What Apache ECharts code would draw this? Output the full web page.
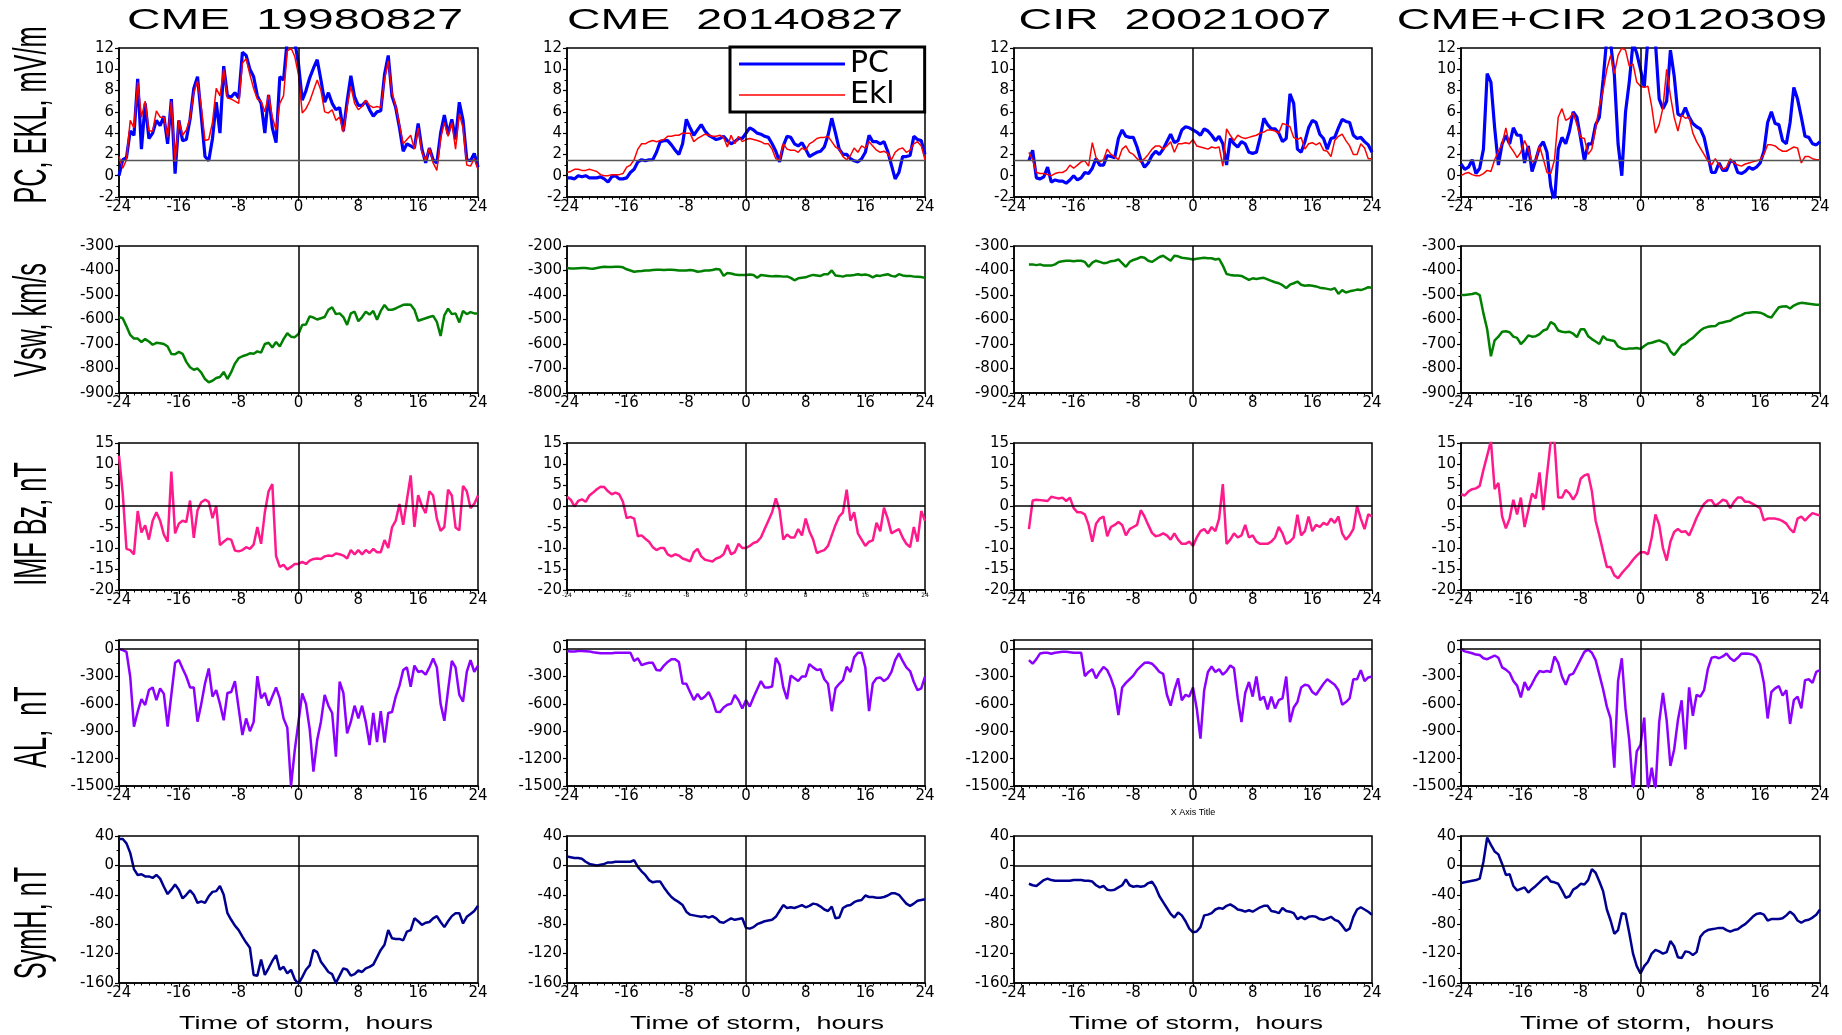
<!DOCTYPE html>
<html><head><meta charset="utf-8">
<script src="https://cdn.jsdelivr.net/npm/echarts@6/dist/echarts.min.js"></script>
<style>html,body{margin:0;padding:0;background:#fff;}#c{width:1842px;height:1035px;}</style>
</head><body><div id="c"></div>
<script>
// ---------- data ----------
const HOURS = [
-24,-23.5,-23,-22.5,-22,-21.5,-21,-20.5,
-20,-19.5,-19,-18.5,-18,-17.5,-17,-16.5,
-16,-15.5,-15,-14.5,-14,-13.5,-13,-12.5,
-12,-11.5,-11,-10.5,-10,-9.5,-9,-8.5,
-8,-7.5,-7,-6.5,-6,-5.5,-5,-4.5,
-4,-3.5,-3,-2.5,-2,-1.5,-1,-0.5,
0,0.5,1,1.5,2,2.5,3,3.5,
4,4.5,5,5.5,6,6.5,7,7.5,
8,8.5,9,9.5,10,10.5,11,11.5,
12,12.5,13,13.5,14,14.5,15,15.5,
16,16.5,17,17.5,18,18.5,19,19.5,
20,20.5,21,21.5,22,22.5,23,23.5,
24];
const X_TICKS = [-24,-16,-8,0,8,16,24];
const TITLES = ['CME  19980827','CME  20140827','CIR  20021007','CME+CIR 20120309'];
const ROW_LABELS = ['PC, EKL, mV/m','Vsw, km/s','IMF Bz, nT','AL,  nT','SymH, nT'];
const X_TITLE = 'Time of storm,  hours';
const LEGEND_NAMES = ['PC','Ekl'];

const Y_MIN = [[-2,-2,-2,-2],[-900,-800,-900,-900],[-20,-20,-20,-20],[-1500,-1500,-1500,-1500],[-160,-160,-160,-160]];
const Y_MAX = [[12,12,12,12],[-300,-200,-300,-300],[15,15,15,15],[100,100,100,100],[40,40,40,40]];
const Y_STEP = [2,100,5,300,40];

const pc1 = [
0,1.5,1.7,4.2,3.8,9.1,2.5,6.8,
3.5,4.0,5.2,4.7,5.6,3.0,7.2,0.2,
5.2,3.3,3.4,5.3,8.2,9.3,5.6,1.8,
1.4,3.5,6.9,4.0,10.3,7.5,7.4,7.8,
7.3,11.6,11.3,10.0,9.3,7.5,6.8,4.0,
7.6,4.5,3.1,9.3,9.0,12.8,13,12.6,
10.5,7.1,8.0,9.2,10.1,10.9,9.0,6.9,
7.8,6.8,6.2,6.4,4.2,7.0,9.4,7.4,
6.6,6.6,7.0,6.2,5.6,6.0,6.1,9.5,
11.3,7.5,6.4,4.5,2.3,3.0,2.8,2.6,
4.9,2.5,1.2,2.6,1.5,1.2,4.0,5.7,
3.9,5.3,3.4,6.9,5.2,1.5,1.4,2.1,
0.8];
const ekl1 = [
1.8,0.7,1.5,5.2,4.5,8.8,5.5,7.0,
4.2,4.2,6.1,5.5,5.5,3.6,7.0,1.3,
5.2,3.8,4.3,5.4,7.8,8.9,6.5,3.3,
3.4,5.0,8.2,7.5,10.0,7.3,7.2,7.0,
6.8,10.6,11.0,9.5,8.2,7.2,7.0,6.0,
7.6,5.5,4.3,6.8,7.5,11.7,12.0,11.2,
9.5,5.9,6.3,7.0,8.0,9.0,8.0,6.0,
5.9,6.2,5.2,5.5,4.1,6.5,8.4,6.8,
6.2,6.5,7.1,6.6,6.4,6.5,6.4,9.0,
10.8,7.8,6.5,4.8,3.0,3.4,3.8,2.5,
4.5,2.2,1.4,2.6,1.2,0.5,3.5,5.0,
3.7,5.0,2.5,5.8,4.5,1.0,0.9,1.6,
0.6];
const vsw1 = [
-590,-595,-628,-663,-678,-678,-692,-680,
-690,-703,-695,-697,-700,-710,-741,-742,
-732,-740,-773,-795,-805,-800,-817,-843,
-856,-850,-839,-835,-814,-843,-815,-780,
-758,-750,-745,-738,-740,-730,-735,-700,
-695,-714,-692,-710,-680,-656,-670,-672,
-659,-622,-620,-587,-592,-600,-595,-590,
-560,-550,-578,-575,-590,-622,-575,-568,
-607,-590,-568,-580,-565,-601,-565,-541,
-560,-560,-555,-547,-540,-539,-540,-560,
-605,-600,-595,-590,-585,-610,-667,-583,
-556,-578,-575,-612,-565,-578,-570,-575,
-575];
const bz1 = [
12,3,-10.2,-10.5,-11.5,-1.2,-6.3,-4.6,
-8,-3.5,-1.5,-3.5,-6.8,-8.5,8.2,-6.5,
-4.2,-3.5,-3.8,1.3,-7.6,-1,0.9,1.5,
1.0,-2.9,0,-9.3,-8.5,-7.8,-8.0,-10.6,
-10.8,-10.5,-9.8,-10.2,-9.2,-5.0,-9.0,-1.5,
3.5,5.2,-11.9,-14.5,-14,-15.1,-14.5,-13.8,
-13.8,-13.3,-13.8,-13.0,-12.6,-12.5,-12.6,-12.0,
-11.8,-11.9,-11.3,-11.5,-11.8,-12.5,-10.5,-11.5,
-10.5,-11.5,-10.5,-11.2,-10.2,-11.0,-11.0,-8.1,
-10,-5.1,-3.5,0.5,-4.5,1.5,7.3,-5.0,
2.6,0,-1.7,3.5,2.5,-3,-5.9,-5.0,
3.9,2.5,-5.1,-5.8,4.8,3.5,-0.5,0.5,
2.5];
const al1 = [
0,-10,-30,-303,-850,-686,-547,-613,
-449,-420,-560,-430,-490,-850,-500,-150,
-120,-212,-300,-420,-420,-795,-600,-376,
-212,-520,-450,-600,-780,-480,-470,-350,
-650,-941,-760,-900,-800,-296,-540,-480,
-620,-520,-420,-540,-759,-860,-1500,-1106,
-795,-485,-600,-880,-1343,-996,-795,-503,
-620,-700,-1178,-357,-480,-923,-795,-620,
-760,-620,-800,-1051,-700,-1020,-680,-1025,
-700,-690,-520,-400,-230,-200,-412,-180,
-250,-240,-280,-200,-102,-200,-600,-785,
-450,-130,-200,-500,-576,-250,-120,-248,
-180];
const symh1 = [
36,36,30,17,-5,-13,-12,-15,
-15,-17,-13,-18,-29,-39,-33,-26,
-33,-45,-40,-34,-40,-51,-49,-51,
-42,-36,-35,-28,-40,-65,-74,-82,
-88,-97,-105,-112,-149,-150,-128,-149,
-140,-130,-122,-142,-138,-147,-142,-155,
-161,-152,-142,-136,-115,-118,-131,-138,
-145,-148,-160,-150,-140,-142,-150,-148,
-143,-145,-140,-138,-135,-125,-115,-108,
-88,-99,-100,-100,-102,-90,-88,-72,
-76,-81,-78,-77,-72,-69,-77,-84,
-76,-69,-65,-65,-79,-70,-66,-62,
-55];

const pc2 = [
-0.2,-0.2,-0.3,0.0,-0.1,0.0,-0.2,-0.2,
-0.2,-0.1,-0.3,-0.6,-0.1,0.0,-0.3,-0.3,
-0.2,0.3,0.6,1.3,1.5,1.4,1.5,1.5,
2.2,3.2,3.3,3.3,2.9,2.4,2.0,3.0,
5.3,4.5,3.8,4.3,4.8,4.2,3.8,3.6,
3.4,3.5,3.7,3.3,3.0,3.2,3.5,3.5,
4.0,4.5,4.3,4.0,3.9,3.7,3.6,3.0,
2.3,1.3,2.8,3.7,3.6,3.0,2.8,3.1,
2.5,1.8,2.0,2.2,2.3,2.7,3.8,5.4,
4.0,2.5,2.0,2.0,1.6,1.4,1.3,1.6,
2.2,3.8,3.2,3.2,3.0,3.2,2.3,1.0,
-0.3,0.3,1.8,1.8,1.9,3.7,3.4,3.3,
2.0];
const ekl2 = [
0.3,0.4,0.6,0.6,0.5,0.5,0.6,0.5,
0.4,0.1,0.0,0.0,0.1,0.1,0.1,0.2,
0.8,1.0,1.5,2.5,3.0,3.0,3.2,3.3,
3.2,3.3,3.4,3.7,3.7,3.8,3.8,4.0,
4.0,4.0,3.2,3.5,3.7,3.9,3.8,3.7,
3.7,3.8,3.6,2.7,3.8,3.0,3.7,3.2,
3.4,3.5,3.4,3.3,3.2,3.0,3.0,2.5,
1.6,1.5,3.0,2.5,2.4,2.4,2.2,2.6,
2.4,3.0,3.2,3.5,3.6,3.6,3.7,3.2,
2.7,2.5,1.8,1.5,1.9,2.6,2.2,2.8,
2.6,3.2,2.8,2.4,2.2,2.3,2.1,1.5,
2.2,2.5,2.6,2.2,2.4,3.0,3.2,2.8,
1.5];
const vsw2 = [
-290,-292,-292,-291,-290,-290,-292,-293,
-290,-287,-285,-286,-286,-285,-285,-287,
-295,-300,-305,-303,-302,-300,-300,-298,
-297,-297,-298,-297,-297,-298,-300,-300,
-300,-298,-300,-305,-303,-300,-300,-298,
-294,-296,-322,-310,-312,-316,-318,-318,
-318,-316,-318,-330,-318,-320,-322,-324,
-322,-323,-325,-324,-330,-340,-332,-330,
-328,-322,-318,-320,-322,-315,-315,-300,
-320,-322,-325,-320,-320,-318,-315,-318,
-316,-320,-328,-320,-322,-318,-315,-322,
-325,-315,-320,-322,-322,-325,-326,-327,
-330];
const bz2 = [
2.2,1.5,-0.1,1.2,1.6,1.0,2.5,3.2,
4.0,4.6,4.5,3.5,2.8,3.2,2.8,1.0,
-2.9,-2.6,-3.0,-7.2,-7.0,-7.8,-8.5,-9.8,
-10.5,-10.0,-10.0,-11.5,-12.0,-11.5,-11.8,-12.5,
-12.8,-13.2,-11.0,-10.2,-12.0,-12.8,-13.0,-13.2,
-12.5,-12.2,-11.5,-9.3,-11.5,-11.0,-9.0,-10.0,
-10.0,-9.5,-8.8,-8.5,-7.5,-5.5,-3.5,-1.5,
1.8,-1.0,-8.0,-6.8,-7.5,-7.5,-5.5,-7.0,
-3.0,-6.0,-8.0,-11.2,-10.8,-10.5,-9.5,-7.0,
-4.5,-2.5,-1.5,3.9,-3.5,-1.5,-6.5,-8.0,
-9.5,-8.5,-8.2,-4.0,-6.0,-0.4,-3.0,-6.5,
-6.0,-5.5,-7.5,-9.0,-9.8,-5.0,-8.5,-1.2,
-3.5];
const al2 = [
-20,-25,-25,-20,-20,-22,-25,-35,
-40,-45,-45,-45,-45,-40,-40,-40,
-40,-40,-130,-100,-175,-160,-150,-150,
-230,-235,-180,-140,-110,-110,-140,-376,
-380,-470,-558,-490,-550,-520,-470,-560,
-686,-690,-640,-610,-600,-503,-560,-650,
-560,-630,-530,-440,-350,-420,-420,-410,
-95,-170,-420,-547,-290,-320,-350,-300,
-300,-164,-200,-230,-220,-330,-380,-680,
-430,-380,-340,-193,-250,-90,-40,-40,
-200,-680,-376,-320,-310,-350,-320,-250,
-120,-47,-130,-200,-240,-360,-450,-430,
-300];
const symh2 = [
12,11,10,10,9,5,2,1,
0,1,2,4,4,5,5,5,
5,5,7,-2,-8,-13,-20,-23,
-22,-22,-30,-37,-43,-47,-50,-54,
-63,-67,-68,-69,-70,-69,-71,-69,
-72,-77,-78,-75,-72,-74,-73,-72,
-85,-86,-84,-80,-78,-76,-75,-74,
-70,-62,-54,-58,-57,-58,-56,-54,
-57,-55,-52,-53,-56,-60,-62,-56,
-72,-71,-58,-55,-54,-50,-48,-47,
-41,-43,-43,-44,-44,-43,-41,-38,
-38,-40,-46,-52,-55,-52,-48,-47,
-46];

const pc3 = [
null,null,null,null,1.4,2.4,-0.2,-0.3,
-0.1,0.8,-0.6,-0.4,-0.5,-0.5,-0.7,-0.4,
0.0,-0.4,-0.2,0.3,0.2,0.7,1.6,1.0,
1.0,1.9,1.8,1.7,3.5,4.3,3.7,3.6,
3.6,2.7,1.5,0.8,1.2,1.9,2.3,2.0,
2.5,3.2,3.9,3.1,3.3,4.3,4.6,4.5,
4.3,4.1,3.8,4.4,4.2,3.8,3.3,3.7,
3.0,1.0,3.5,3.0,2.7,3.2,3.0,2.2,
2.1,2.2,3.6,5.4,4.8,4.4,4.4,4.0,
3.2,3.5,7.7,6.8,2.5,2.2,3.2,4.5,
5.2,5.0,3.9,3.5,2.5,3.5,3.6,4.5,
5.3,5.1,5.0,3.8,3.5,3.6,3.2,2.9,
2.2];
const ekl3 = [
null,null,null,null,2.2,1.5,0.3,0.2,
0.2,0.1,0.0,0.2,0.3,0.3,0.5,1.0,
0.7,1.0,1.3,1.4,0.9,3.1,1.7,1.3,
1.5,2.5,2.0,1.8,1.5,2.5,2.8,2.2,
2.0,1.6,1.3,1.6,2.0,2.5,2.8,2.8,
2.5,2.8,3.2,2.2,3.0,3.0,3.1,3.0,
3.4,2.8,2.7,2.6,2.5,2.7,2.6,2.7,
0.9,4.4,3.8,3.3,3.8,3.6,3.5,3.6,
3.7,3.8,4.0,4.1,4.3,4.3,4.2,4.0,
4.9,4.8,4.6,3.6,3.4,3.6,2.5,3.0,
3.1,2.9,3.1,2.4,2.3,1.8,3.3,3.7,
3.9,3.3,2.8,2.0,2.0,3.0,2.6,1.6,
1.6];
const vsw3 = [
null,null,null,null,-375,-375,-378,-375,
-380,-380,-380,-375,-365,-362,-360,-360,
-362,-360,-360,-365,-385,-368,-360,-365,
-370,-368,-362,-360,-355,-370,-385,-365,
-357,-352,-345,-348,-360,-365,-355,-345,
-340,-350,-360,-340,-342,-348,-350,-352,
-355,-352,-350,-348,-350,-350,-355,-352,
-380,-414,-418,-420,-420,-422,-430,-438,
-432,-435,-432,-430,-436,-442,-448,-452,
-460,-472,-458,-452,-445,-458,-462,-460,
-462,-465,-470,-472,-475,-478,-472,-495,
-480,-490,-485,-482,-478,-480,-475,-468,
-470];
const bz3 = [
null,null,null,null,-5.5,1.3,1.5,1.4,
1.3,1.2,2.2,2.0,1.8,2.0,1.2,2.0,
-0.5,-1.5,-1.5,-2.0,-4.5,-8.5,-4.2,-3.0,
-2.5,-7.2,-5.0,-4.5,-3.8,-4.5,-7.0,-5.5,
-5.0,-4.5,-1.0,-2.5,-4.5,-6.4,-7.2,-7.0,
-6.5,-7.0,-8.0,-6.5,-8.0,-9.0,-9.0,-8.5,
-9.5,-7.5,-6.0,-5.5,-6.5,-5.0,-6.0,-3.0,
5.2,-9.0,-8.0,-6.5,-7.5,-7.0,-4.5,-7.5,
-7.0,-8.5,-9.0,-9.0,-9.0,-8.5,-7.5,-5.0,
-6.5,-9.0,-8.5,-7.5,-2.1,-7.0,-6.0,-2.5,
-6.0,-4.5,-5.0,-4.0,-4.5,-3.0,-4.0,-2.5,
-6.5,-8.0,-7.0,-5.5,0.0,-3.0,-5.5,-2.0,
-2.5];
const al3 = [
null,null,null,null,-120,-160,-110,-47,
-40,-40,-50,-40,-35,-30,-30,-35,
-40,-40,-40,-296,-250,-220,-320,-250,
-195,-230,-320,-440,-722,-420,-370,-330,
-290,-230,-190,-150,-146,-160,-200,-250,
-270,-500,-620,-450,-320,-560,-500,-520,
-420,-650,-980,-450,-250,-190,-250,-220,
-280,-240,-180,-210,-540,-800,-480,-360,
-520,-300,-560,-520,-660,-520,-650,-560,
-540,-300,-800,-640,-580,-420,-390,-400,
-470,-500,-440,-380,-330,-360,-390,-450,
-610,-580,-540,-330,-330,-230,-350,-310,
-300];
const symh3 = [
null,null,null,null,-25,-27,-28,-24,
-20,-18,-20,-21,-21,-21,-21,-21,
-20,-20,-20,-21,-21,-22,-27,-30,
-28,-33,-34,-33,-30,-27,-19,-27,
-29,-28,-29,-28,-24,-22,-30,-42,
-50,-58,-66,-71,-64,-68,-76,-86,
-91,-90,-84,-68,-67,-65,-60,-58,
-59,-55,-53,-56,-60,-61,-63,-61,
-63,-60,-57,-55,-55,-62,-63,-65,
-58,-62,-63,-65,-73,-70,-73,-70,
-69,-70,-73,-74,-72,-70,-74,-76,
-82,-89,-86,-70,-60,-57,-60,-63,
-67];

const pc4 = [
1.1,0.6,0.8,1.5,0.2,0.7,2.5,9.6,
8.8,4.5,1.0,3.0,3.8,3.0,4.5,3.8,
3.8,1.2,2.8,0.4,1.5,2.7,3.2,2.2,
-1.0,-2.5,2.5,3.6,3.0,4.2,6.0,5.5,
3.5,1.4,3.0,3.0,4.8,5.5,9.0,13,
12.5,9.5,3.0,0.0,6.0,8.8,12.5,11.5,
10.0,8.3,13,13,12.5,7.2,6.3,7.0,
11.8,9.4,5.8,5.6,6.4,5.5,4.9,4.6,
4.4,3.6,2.0,0.3,0.3,1.2,0.5,0.5,
1.4,1.3,0.3,0.2,0.4,0.8,0.6,0.8,
1.2,2.3,5.0,6.0,4.9,4.8,3.3,3.0,
5.0,8.3,7.2,5.5,3.7,3.6,3.0,2.9,
3.2];
const ekl4 = [
0.0,0.2,0.3,0.1,0.0,0.0,0.2,0.5,
0.4,1.5,2.3,3.0,4.5,2.8,2.3,1.7,
2.2,3.3,2.5,1.3,1.5,2.8,1.6,0.3,
0.2,1.5,5.5,6.3,5.2,5.4,5.9,4.8,
3.6,3.5,2.0,2.5,4.5,6.5,8.0,10.0,
11.3,9.6,11.3,12.0,11.8,10.3,10.5,8.8,
8.4,8.3,8.4,6.5,4.0,4.8,6.4,10.0,
7.5,5.5,4.2,5.7,5.4,5.5,4.0,3.2,
2.6,2.0,1.4,1.0,1.6,1.0,0.6,0.8,
1.6,1.2,1.0,0.9,1.1,1.2,1.3,1.4,
1.5,2.0,2.9,2.9,2.8,2.5,2.3,2.3,
2.5,2.7,2.6,1.2,1.8,1.8,1.6,1.5,
1.5];
const vsw4 = [
-500,-500,-498,-496,-492,-500,-575,-640,
-750,-685,-670,-650,-648,-652,-670,-675,
-700,-685,-665,-670,-668,-660,-645,-640,
-610,-620,-645,-650,-652,-650,-658,-672,
-640,-640,-668,-680,-690,-700,-668,-682,
-685,-688,-710,-718,-721,-718,-718,-716,
-720,-708,-698,-695,-690,-685,-692,-700,
-730,-745,-725,-705,-698,-685,-675,-660,
-645,-635,-630,-628,-627,-615,-612,-608,
-605,-595,-588,-582,-574,-572,-570,-570,
-572,-578,-588,-592,-570,-550,-547,-546,
-555,-543,-536,-532,-534,-536,-538,-540,
-540];
const bz4 = [
2.8,2.5,3.5,4.0,4.2,4.8,8.6,12.0,
15.5,4.0,5.5,-2.5,-5.3,-3.0,1.5,-2.0,
2.0,-5.0,-1.0,3.0,1.8,8.0,-1.0,7.5,
15.5,15.5,2.0,2.0,3.8,3.0,1.5,3.0,
6.5,7.3,7.6,3.5,-3.5,-7.0,-10.8,-14.5,
-14.5,-16.5,-17.2,-16.0,-15.0,-14.0,-12.8,-11.8,
-11.0,-11.0,-11.5,-7.5,-2.0,-4.5,-10.0,-13.0,
-8.5,-6.2,-5.5,-6.2,-6.0,-7.0,-5.0,-2.8,
-1.0,0.5,1.3,1.4,0.0,0.7,1.5,1.2,
-0.5,1.0,2.0,2.0,1.0,1.0,0.5,0.0,
-0.5,-3.4,-3.0,-3.0,-3.0,-3.2,-3.6,-4.2,
-5.5,-6.3,-3.0,-2.5,-3.5,-2.5,-1.7,-2.0,
-2.3];
const al4 = [
0,-25,-35,-45,-60,-65,-100,-110,
-90,-70,-95,-200,-225,-260,-350,-400,
-530,-360,-450,-380,-300,-240,-250,-240,
-250,-80,-150,-300,-390,-285,-268,-190,
-110,-30,-5,-40,-120,-280,-440,-630,
-760,-1300,-350,-100,-650,-1000,-1550,-1120,
-1050,-750,-1550,-1300,-1550,-800,-480,-780,
-1280,-1100,-780,-560,-1100,-420,-730,-500,
-520,-450,-220,-95,-85,-100,-80,-47,
-100,-130,-95,-50,-47,-50,-60,-90,
-170,-375,-760,-470,-430,-405,-510,-450,
-820,-560,-520,-650,-340,-330,-370,-250,
-230];
const symh4 = [
-24,-23,-22,-21,-20,-18,5,38,
28,19,15,2,-13,-12,-28,-34,
-32,-30,-37,-32,-28,-23,-18,-15,
-22,-23,-25,-34,-44,-42,-33,-30,
-25,-26,-20,-5,-10,-22,-35,-60,
-75,-93,-88,-65,-66,-92,-120,-137,
-147,-137,-131,-120,-115,-117,-120,-118,
-103,-110,-125,-126,-117,-118,-122,-118,
-97,-91,-88,-87,-86,-85,-85,-88,
-90,-88,-87,-83,-80,-75,-70,-66,
-65,-67,-75,-73,-73,-73,-72,-68,
-63,-67,-75,-78,-75,-74,-71,-67,
-60];

// ---------- layout & style ----------
const COL_L = [119, 567, 1014, 1461];
const COL_W = [359, 358, 358, 359];
const ROW_T = [48, 246, 443, 640, 836];
const ROW_H = [149, 147, 147, 146, 147];
const TITLE_X = [295, 735, 1175, 1612];
const XT_X = [306, 757, 1196, 1647];
const ROWLAB_Y = [115, 320, 524, 727, 923];
const FONT = "'Liberation Sans', Arial, sans-serif";
const TICK_FONT = "'DejaVu Sans', sans-serif";

const ROW_SERIES = [
  [{name:'PC', vals:[pc1,pc2,pc3,pc4], color:'#0000ff', width:3.2},
   {name:'Ekl', vals:[ekl1,ekl2,ekl3,ekl4], color:'#ff0000', width:1.5}],
  [{name:'Vsw', vals:[vsw1,vsw2,vsw3,vsw4], color:'#008000', width:2.5}],
  [{name:'IMF Bz', vals:[bz1,bz2,bz3,bz4], color:'#ff1a8c', width:2.5}],
  [{name:'AL', vals:[al1,al2,al3,al4], color:'#8c00ff', width:2.5}],
  [{name:'SymH', vals:[symh1,symh2,symh3,symh4], color:'#000090', width:2.5}]
];

const grids = [], xAxes = [], yAxes = [], series = [];
for (let r = 0; r < 5; r++) {
  for (let c = 0; c < 4; c++) {
    const idx = r * 4 + c;
    grids.push({left: COL_L[c], top: ROW_T[r], width: COL_W[c], height: ROW_H[r],
      show: true, borderColor: '#000', borderWidth: 1.5, backgroundColor: 'transparent',
      containLabel: false, outerBoundsMode: 'none'});
    const tiny = (r === 2 && c === 1);
    const xa = {type: 'value', gridIndex: idx, min: X_TICKS[0], max: X_TICKS[X_TICKS.length - 1],
      interval: X_TICKS[1] - X_TICKS[0],
      axisLine: {show: true, onZero: false, lineStyle: {color: '#000', width: 1.5}},
      axisTick: {show: true, inside: false, length: 4, lineStyle: {color: '#000', width: 1.2}},
      minorTick: {show: true, splitNumber: 8, length: 2.5, lineStyle: {color: '#000', width: 1}},
      splitLine: {show: false}, minorSplitLine: {show: false},
      axisLabel: {show: true, color: '#000', fontFamily: TICK_FONT, fontSize: tiny ? 6 : 15, margin: tiny ? 2 : 3}};
    if (r === 3 && c === 2) {
      xa.name = 'X Axis Title'; xa.nameLocation = 'middle'; xa.nameGap = 22;
      xa.nameTextStyle = {fontFamily: FONT, fontSize: 9, color: '#000'};
    }
    xAxes.push(xa);
    yAxes.push({type: 'value', gridIndex: idx, min: Y_MIN[r][c], max: Y_MAX[r][c], interval: Y_STEP[r],
      axisLine: {show: true, onZero: false, lineStyle: {color: '#000', width: 1.5}},
      axisTick: {show: true, inside: false, length: 4, lineStyle: {color: '#000', width: 1.2}},
      minorTick: {show: true, splitNumber: 2, length: 2.5, lineStyle: {color: '#000', width: 1}},
      splitLine: {show: false}, minorSplitLine: {show: false},
      axisLabel: {show: true, color: '#000', fontFamily: TICK_FONT, fontSize: 15, margin: 5,
        showMaxLabel: r !== 3,
        formatter: (v) => (r === 3 && v > 0) ? '' : String(v)}});

    const ml = [{xAxis: 0}];
    if (r === 0) ml.push({yAxis: 1.5, lineStyle: {color: '#555', width: 1.3, type: 'solid'}});
    if (r >= 2) ml.push({yAxis: 0});
    ROW_SERIES[r].forEach((s, k) => {
      const vals = s.vals[c];
      const ser = {type: 'line', name: s.name, xAxisIndex: idx, yAxisIndex: idx,
        data: HOURS.map((h, i) => [h, vals[i]]),
        symbol: 'none', showSymbol: false, smooth: false, connectNulls: false,
        lineStyle: {color: s.color, width: s.width}, itemStyle: {color: s.color},
        animation: false, clip: true, z: 3 + k};
      if (k === 0) {
        ser.markLine = {silent: true, symbol: ['none', 'none'], label: {show: false},
          lineStyle: {color: '#000', width: 1.5, type: 'solid'}, animation: false, data: ml};
      }
      series.push(ser);
    });
  }
}

const graphic = [];
TITLES.forEach((t, c) => graphic.push({type: 'text', x: TITLE_X[c], y: 21, scaleX: 1.55,
  style: {text: t, fontFamily: FONT, fontSize: 30, fill: '#000',
    textAlign: 'center', textVerticalAlign: 'middle', align: 'center', verticalAlign: 'middle'}}));
ROW_LABELS.forEach((t, r) => graphic.push({type: 'text', x: 33, y: ROWLAB_Y[r], rotation: Math.PI / 2, scaleX: 0.55,
  style: {text: t, fontFamily: FONT, fontSize: 46, fill: '#000',
    textAlign: 'center', textVerticalAlign: 'middle', align: 'center', verticalAlign: 'middle'}}));
XT_X.forEach((x) => graphic.push({type: 'text', x: x, y: 1024, scaleX: 1.42,
  style: {text: X_TITLE, fontFamily: FONT, fontSize: 19, fill: '#000',
    textAlign: 'center', textVerticalAlign: 'middle', align: 'center', verticalAlign: 'middle'}}));

// legend icons: plain line bars of the series' thickness (no symbol)
const LEGEND_ICONS = {
  PC: 'path://M0,0L0,0M0,12L0,12M0,4.4H106V7.6H0Z',
  Ekl: 'path://M0,0L0,0M0,12L0,12M0,5.25H106V6.75H0Z'
};

const chart = echarts.init(document.getElementById('c'), null, {renderer: 'canvas'});
chart.setOption({
  animation: false,
  backgroundColor: '#fff',
  textStyle: {fontFamily: FONT, color: '#000'},
  grid: grids, xAxis: xAxes, yAxis: yAxes, series: series,
  legend: {data: LEGEND_NAMES.map(n => ({name: n, icon: LEGEND_ICONS[n]})),
    orient: 'vertical', left: 730, top: 47, symbolKeepAspect: false,
    itemWidth: 106, itemHeight: 12, itemGap: 1, padding: [2, 30, 2, 9],
    borderColor: '#000', borderWidth: 3, backgroundColor: '#fff', borderRadius: 0,
    selectedMode: false, z: 10,
    textStyle: {fontFamily: TICK_FONT, fontSize: 30, lineHeight: 28, color: '#000'}},
  graphic: graphic
});
</script>
</body></html>
